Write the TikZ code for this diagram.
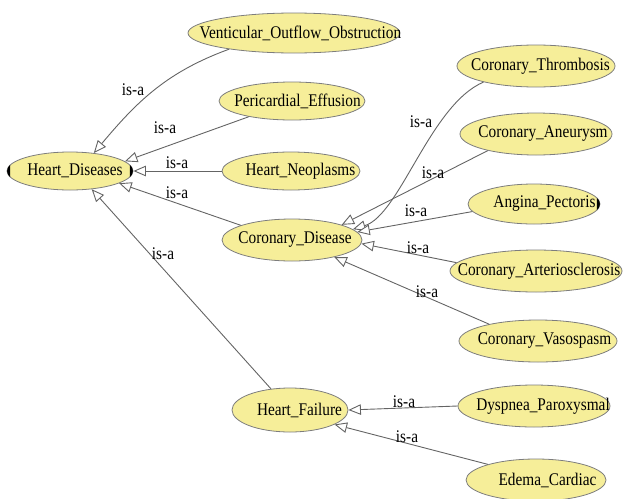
\documentclass[tikz,border=0pt]{standalone}
\usepackage{fontspec}
\setmainfont{Liberation Serif}[FakeStretch=0.86]
\usetikzlibrary{arrows.meta,shapes.geometric,calc}
\definecolor{nodefill}{RGB}{246,238,153}
\definecolor{nodeline}{RGB}{125,125,125}
\definecolor{edgeline}{RGB}{100,100,100}
\newcommand{\ntext}[2][7pt]{\makebox[0pt]{\hspace{#1}#2}}
\begin{document}
\begin{tikzpicture}[x=1pt,y=1pt,
  cls/.style={ellipse, draw=nodeline, fill=nodefill, line width=0.8pt, inner sep=0pt,
    minimum height=40pt, font=\fontsize{17.8}{20}\selectfont},
  isa/.style={draw=edgeline, line width=0.9pt, -{Triangle[length=12.5pt,width=10.5pt,fill=white]}},
  lbl/.style={font=\fontsize{17.8}{20}\selectfont, inner sep=0pt}]
\useasboundingbox (0,0) rectangle (623,-498);

% nodes
\node[cls, minimum width=126pt, minimum height=38pt] (hd) at (70,-171) {\ntext[10pt]{Heart\_Diseases}};
\node[cls, minimum width=212pt] (vo) at (294,-33) {\ntext[13pt]{Venticular\_Outflow\_Obstruction}};
\node[cls, minimum width=146pt, minimum height=38pt] (pe) at (292,-101) {\ntext[11pt]{Pericardial\_Effusion}};
\node[cls, minimum width=138pt, minimum height=38pt] (hn) at (291,-171) {\ntext[19pt]{Heart\_Neoplasms}};
\node[cls, minimum width=140pt, minimum height=42pt] (cd) at (292,-240) {\ntext[6pt]{Coronary\_Disease}};
\node[cls, minimum width=116pt, minimum height=44pt] (hf) at (290,-410) {\ntext[19pt]{Heart\_Failure}};
\node[cls, minimum width=158pt, minimum height=42pt] (ct) at (536,-66) {\ntext[9pt]{Coronary\_Thrombosis}};
\node[cls, minimum width=152pt, minimum height=42pt] (ca) at (536,-134) {\ntext[14pt]{Coronary\_Aneurysm}};
\node[cls, minimum width=132pt] (ap) at (534,-204) {\ntext[21pt]{Angina\_Pectoris}};
\node[cls, minimum width=172pt, minimum height=42pt] (cas) at (536,-271) {\ntext[6pt]{Coronary\_Arteriosclerosis}};
\node[cls, minimum width=158pt, minimum height=42pt] (cv) at (538,-341) {\ntext[13pt]{Coronary\_Vasospasm}};
\node[cls, minimum width=152pt, minimum height=42pt] (dp) at (534,-406) {\ntext[18pt]{Dyspnea\_Paroxysmal}};
\node[cls, minimum width=140pt, minimum height=42pt] (ec) at (536,-480) {\ntext[23pt]{Edema\_Cardiac}};

% black expand markers
\fill ($(hd.west)+(3.5,6)$) .. controls ($(hd.west)+(-0.5,3)$) and ($(hd.west)+(-0.5,-3)$) .. ($(hd.west)+(3.5,-6)$) -- cycle;
\fill ($(hd.east)+(-3.5,6)$) .. controls ($(hd.east)+(0.5,3)$) and ($(hd.east)+(0.5,-3)$) .. ($(hd.east)+(-3.5,-6)$) -- cycle;
\fill ($(ap.east)+(-3.5,6)$) .. controls ($(ap.east)+(0.5,3)$) and ($(ap.east)+(0.5,-3)$) .. ($(ap.east)+(-3.5,-6)$) -- cycle;

% edges to Heart_Diseases
\draw[isa] (vo.194) to[out=200,in=50] (hd.37);
\draw[isa] (pe.200) -- (hd.10);
\draw[isa] (hn.west) -- (hd.east);
\draw[isa] (cd.164) -- (hd.-14);
\draw[isa] (hf.132) -- (hd.-40);

% edges to Coronary_Disease
\draw[isa] (ct.197) .. controls (430,-105) and (400,-215) .. (cd.10);
\draw[isa] (ca.199) -- (cd.17);
\draw[isa] (ap.187) -- (cd.7);
\draw[isa] (cas.174) -- (cd.-3);
\draw[isa] (cv.161) -- (cd.-22);

% edges to Heart_Failure
\draw[isa] (dp.west) -- (hf.0);
\draw[isa] (ec.162) -- (hf.-18);

% labels
\node[lbl] (l1) at (133,-90) {is-a};
\node[lbl] (l2) at (165,-128) {is-a};
\node[lbl] (l3) at (177,-163) {is-a};
\node[lbl] (l4) at (177,-193) {is-a};
\node[lbl] (l5) at (163,-254) {is-a};
\node[lbl] (l6) at (421,-122) {is-a};
\node[lbl] (l7) at (433,-173) {is-a};
\node[lbl] (l8) at (416,-211) {is-a};
\node[lbl] (l9) at (418,-248) {is-a};
\node[lbl] (l10) at (427,-292) {is-a};
\node[lbl] (l11) at (404,-402) {is-a};
\node[lbl] (l12) at (407,-437) {is-a};
\end{tikzpicture}
\end{document}
